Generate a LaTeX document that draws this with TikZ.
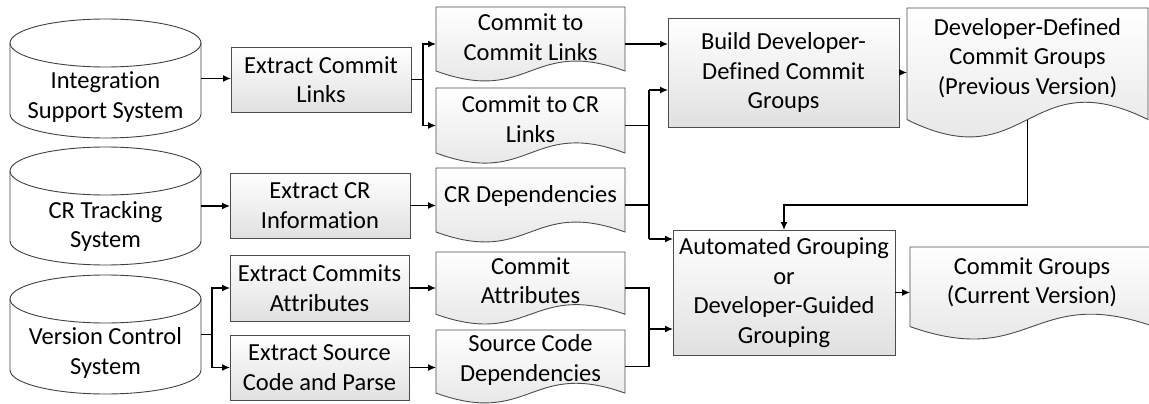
\documentclass[tikz,border=0pt]{standalone}
\usepackage{fontspec}
\setmainfont{Carlito}[Ligatures=NoCommon]
\usetikzlibrary{arrows.meta,calc}
\newcommand\lblfont{\fontsize{24.5}{29.5}\selectfont}
\tikzset{
  anchorbox/.style={minimum width=#1, inner sep=0pt, outer sep=0pt},
  procbox/.style={draw=black!70, line width=0.9pt, top color=white, bottom color=black!12,
    align=center, font=\lblfont, inner sep=0pt, outer sep=0pt},
  txt/.style={align=center, font=\lblfont, inner sep=0pt},
  docstyle/.style={draw=black!70, line width=0.9pt, top color=white, bottom color=black!12},
  cylstyle/.style={draw=black!75, line width=0.9pt, fill=white},
  cylline/.style={draw=black!75, line width=0.9pt},
  conn/.style={line width=1.3pt, -{Latex[length=8pt,width=7pt]}},
  wire/.style={line width=1.3pt}
}
% cylinder outline around a named node
\newcommand\drawcyl[1]{%
  \path[cylstyle] ($(#1.north west)+(0,-24)$) -- ($(#1.south west)+(0,24)$)
    arc[start angle=180,end angle=360,x radius=95.5,y radius=24]
    -- ($(#1.north east)+(0,-24)$)
    arc[start angle=0,end angle=180,x radius=95.5,y radius=24] -- cycle;
  \draw[cylline] ($(#1.north west)+(0,-24)$)
    arc[start angle=180,end angle=360,x radius=95.5,y radius=24];}
% document outline around a named node: #2 wave amplitude, #3 control offset
\newcommand\drawdoc[3]{%
  \path[docstyle] (#1.north west) -- (#1.north east) -- ($(#1.south east)+(0,#2)$)
    .. controls ($(#1.south)+(0,#2+#3)$) and ($(#1.south)+(0,#2-#3)$) ..
    ($(#1.south west)+(0,#2)$) -- cycle;}
\begin{document}
\begin{tikzpicture}[x=1pt,y=1pt]
\useasboundingbox (0,0) rectangle (1149,-404);

% ---------- cylinders ----------
\node[anchorbox=191pt, minimum height=119pt] (isys) at (105.5,-78.5) {};
\drawcyl{isys}
\node[txt] (isyst) at (105.5,-97) {Integration\\Support System};

\node[anchorbox=191pt, minimum height=118pt] (crts) at (105.5,-206) {};
\drawcyl{crts}
\node[txt] (crtst) at (105.5,-226.5) {CR Tracking\\System};

\node[anchorbox=191pt, minimum height=119pt] (vcs) at (105.5,-334.5) {};
\drawcyl{vcs}
\node[txt] (vcst) at (105.5,-353) {Version Control\\System};

% ---------- process boxes ----------
\node[procbox, minimum width=180pt, minimum height=65pt] (ecl) at (321,-79.5) {Extract Commit\\Links};
\node[procbox, minimum width=180pt, minimum height=65pt] (ecr) at (320,-205.5) {Extract CR\\Information};
\node[procbox, minimum width=179pt, minimum height=66pt] (eca) at (319.5,-288) {Extract Commits\\Attributes};
\node[procbox, minimum width=179pt, minimum height=65pt] (esc) at (319.5,-367.5) {Extract Source\\Code and Parse};
\node[procbox, minimum width=231pt, minimum height=109pt] (bld) at (783.5,-72.5) {Build Developer-\\Defined Commit\\Groups};
\node[procbox, minimum width=222pt, minimum height=125pt] (aut) at (784,-292.5) {Automated Grouping\\or\\Developer-Guided\\Grouping};

% ---------- documents ----------
\node[anchorbox=189pt, minimum height=74pt] (ccl) at (530.5,-44) {};
\drawdoc{ccl}{10}{34.5}
\node[txt] (cclt) at (530.5,-37) {Commit to\\Commit Links};

\node[anchorbox=189pt, minimum height=75pt] (ccr) at (530.5,-125.5) {};
\drawdoc{ccr}{10}{35}
\node[txt] (ccrt) at (530.5,-119) {Commit to CR\\Links};

\node[anchorbox=189pt, minimum height=74pt] (crd) at (530.5,-205) {};
\drawdoc{crd}{10}{34.5}
\node[txt] (crdt) at (530.5,-196) {CR Dependencies};

\node[anchorbox=189pt, minimum height=72pt] (cat) at (530.5,-288) {};
\drawdoc{cat}{9.7}{33.6}
\node[txt] (catt) at (530.5,-280.5) {Commit\\Attributes};

\node[anchorbox=189pt, minimum height=73pt] (scd) at (530.5,-366.5) {};
\drawdoc{scd}{9.9}{34}
\node[txt] (scdt) at (530.5,-360) {Source Code\\Dependencies};

\node[anchorbox=241pt, minimum height=129pt] (ddg) at (1027.5,-72.5) {};
\drawdoc{ddg}{17.4}{60}
\node[txt] (ddgt) at (1027.5,-58) {Developer-Defined\\Commit Groups\\(Previous Version)};

\node[anchorbox=244pt, minimum height=92pt] (cgc) at (1032,-293) {};
\drawdoc{cgc}{12.4}{43}
\node[txt] (cgct) at (1032,-282.5) {Commit Groups\\(Current Version)};

% ---------- connectors ----------
\draw[conn] (isys.east) -- (isys.east -| ecl.west);
\draw[conn] (crts.east) -- (crts.east -| ecr.west);

\coordinate (j1) at ($(ecl.east)+(12,0)$);
\draw[wire] (ecl.east) -- (j1);
\draw[conn] (j1) |- (ccl.west);
\draw[conn] (j1) |- (ccr.west);

\coordinate (j3) at ($(vcs.east)+(11,0)$);
\draw[wire] (vcs.east) -- (j3);
\draw[conn] (j3) |- (eca.west);
\draw[conn] (j3) |- (esc.west);

\draw[conn] (ecr.east) -- (ecr.east -| crd.west);
\draw[conn] (eca.east) -- (eca.east -| cat.west);
\draw[conn] (esc.east) -- (esc.east -| scd.west);

\draw[conn] (ccl.east) -- (ccl.east -| bld.west);

\coordinate (bin2) at ($(bld.west)+(0,-17.5)$);
\coordinate (ain1) at ($(aut.north west)+(0,-9)$);
\coordinate (v1t) at ($(bin2)+(-19,0)$);
\coordinate (v1b) at ($(ain1)+(-24,0)$);
\draw[wire] (v1t) -- (v1b);
\draw[wire] (ccr.east) -- (ccr.east -| v1t);
\draw[wire] (crd.east) -- (crd.east -| v1t);
\draw[conn] (v1t) -- (bin2);
\draw[conn] (v1b) -- (ain1);

\coordinate (ain2) at ($(aut.west)+(0,-36.5)$);
\coordinate (j2) at ($(ain2)+(-24,0)$);
\draw[wire] (cat.east) -| (j2);
\draw[wire] (scd.east) -| (j2);
\draw[conn] (j2) -- (ain2);

\draw[conn] (bld.east) -- (bld.east -| ddg.west);
\draw[conn] (aut.east) -- (aut.east -| cgc.west);

\coordinate (ddgb) at ($(ddg.south)+(0,17.4)$);
\coordinate (bend) at ($(ddgb)+(0,-85.4)$);
\draw[conn] (ddgb) -- (bend) -| (aut.north);
\end{tikzpicture}
\end{document}
